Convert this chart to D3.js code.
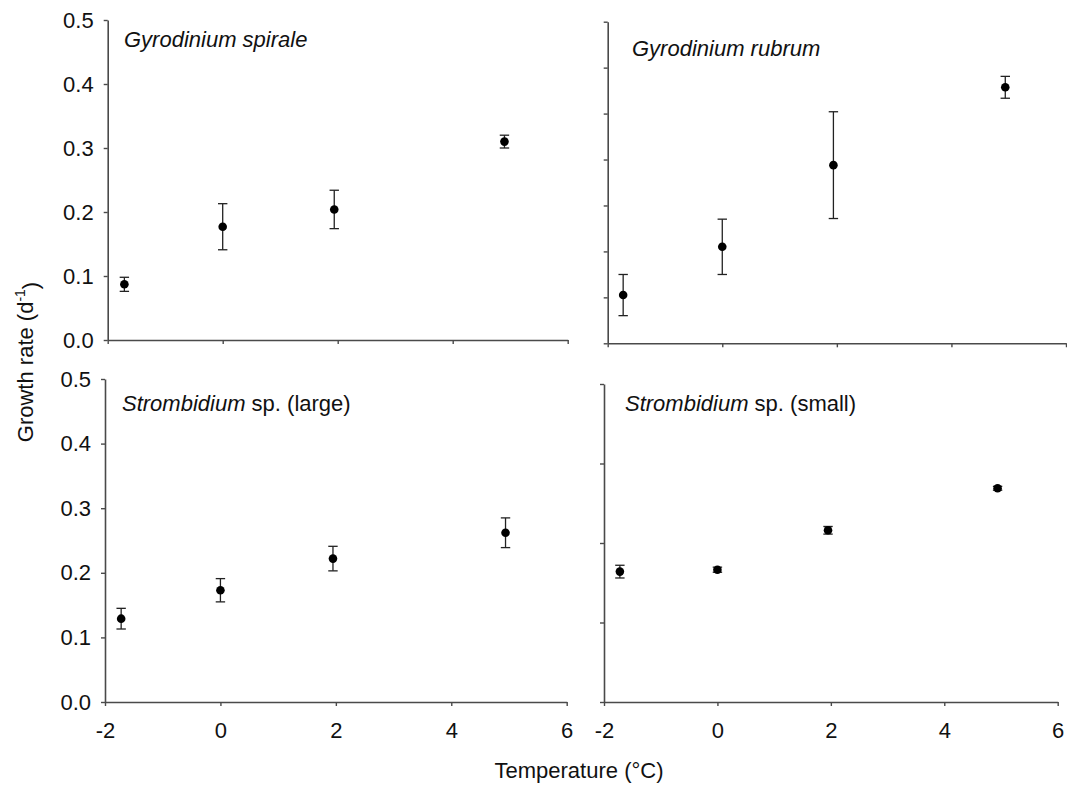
<!DOCTYPE html>
<html>
<head>
<meta charset="utf-8">
<script src="https://cdn.jsdelivr.net/npm/d3@7"></script>
<style>
  html, body { margin: 0; padding: 0; background: #fff; }
  svg { display: block; font-family: "Liberation Sans", Arial, sans-serif; }
</style>
</head>
<body>
<svg id="chart" width="1067" height="788"></svg>
<script>
// ---- data ----
const panelTitles = [
  ["Gyrodinium spirale"],
  ["Gyrodinium rubrum"],
  ["Strombidium", " sp. (large)"],
  ["Strombidium", " sp. (small)"]
];
const tempGS = [-1.71, 0.0, 1.94, 4.90];
const rateGS = [0.087, 0.177, 0.204, 0.310];
const errGS  = [0.011, 0.036, 0.030, 0.010];

const tempGR = [-1.73, 0.0, 1.94, 4.94];
const rateGR = [0.075, 0.150, 0.277, 0.398];
const errGR  = [0.032, 0.043, 0.083, 0.017];

const tempSL = [-1.72, 0.0, 1.95, 4.94];
const rateSL = [0.129, 0.173, 0.222, 0.262];
const errSL  = [0.016, 0.018, 0.019, 0.023];

const tempSS = [-1.72, 0.0, 1.95, 4.94];
const rateSS = [0.205, 0.208, 0.270, 0.336];
const errSS  = [0.010, 0.004, 0.006, 0.003];

const xTicks = [-2, 0, 2, 4, 6];
const xTickLabels = ["-2", "0", "2", "4", "6"];
const yTicksLeft = [0, 0.1, 0.2, 0.3, 0.4, 0.5];
const yTickLabels = ["0.0", "0.1", "0.2", "0.3", "0.4", "0.5"];
const yTicksTopRight = d3.range(0, 8).map(i => i * 0.5 / 7);
const yTicksBottomRight = d3.range(0, 5).map(i => i * 0.5 / 4);
const xLabel = "Temperature (°C)";

// ---- layout ----
const panels = [
  { t: tempGS, r: rateGS, e: errGS, title: panelTitles[0],
    x0: 107.7, x1: 567.7, yTop: 20, yBot: 340, yTicks: yTicksLeft, yLabels: true, xLabels: false, tx: 124, ty: 47 },
  { t: tempGR, r: rateGR, e: errGR, title: panelTitles[1],
    x0: 607.7, x1: 1066, yTop: 21.7, yBot: 343.3, yTicks: yTicksTopRight, yLabels: false, xLabels: false, tx: 632, ty: 56 },
  { t: tempSL, r: rateSL, e: errSL, title: panelTitles[2],
    x0: 105, x1: 566.7, yTop: 379, yBot: 702, yTicks: yTicksLeft, yLabels: true, xLabels: true, tx: 122, ty: 411 },
  { t: tempSS, r: rateSS, e: errSS, title: panelTitles[3],
    x0: 604, x1: 1057.7, yTop: 384, yBot: 702, yTicks: yTicksBottomRight, yLabels: false, xLabels: true, tx: 625, ty: 411 }
];

const svg = d3.select("#chart");
const axisColor = "#4a4a4a";
const fontSize = 22;

panels.forEach(p => {
  const x = d3.scaleLinear().domain([-2, 6]).range([p.x0, p.x1]);
  const y = d3.scaleLinear().domain([0, 0.5]).range([p.yBot, p.yTop]);
  const g = svg.append("g");

  const xa = g.append("g").attr("transform", `translate(0,${p.yBot})`)
    .call(d3.axisBottom(x).tickValues(xTicks).tickSizeOuter(0).tickSizeInner(4).tickPadding(16)
      .tickFormat((d, i) => p.xLabels ? xTickLabels[i] : ""));
  const ya = g.append("g").attr("transform", `translate(${p.x0},0)`)
    .call(d3.axisLeft(y).tickValues(p.yTicks).tickSizeOuter(0).tickSizeInner(4).tickPadding(10)
      .tickFormat((d, i) => p.yLabels ? yTickLabels[i] : ""));

  [xa, ya].forEach(a => {
    a.select(".domain").attr("stroke", axisColor).attr("stroke-width", 1.6);
    a.selectAll(".tick line").attr("stroke", axisColor).attr("stroke-width", 1.4);
    a.selectAll("text").attr("fill", "#111").style("font-size", fontSize + "px")
      .style("font-family", '"Liberation Sans", Arial, sans-serif');
  });
  xa.selectAll("text").attr("dy", "0.71em");

  const tt = g.append("text").attr("x", p.tx).attr("y", p.ty)
    .style("font-size", "22px").attr("fill", "#111");
  tt.append("tspan").style("font-style", "italic").text(p.title[0]);
  if (p.title.length > 1) tt.append("tspan").text(p.title[1]);

  const data = p.t.map((tv, i) => ({ t: tv, r: p.r[i], e: p.e[i] }));
  const cap = 4.7;
  const eb = g.append("g").attr("stroke", "#222").attr("stroke-width", 1.3);
  data.forEach(d => {
    const cx = x(d.t);
    eb.append("line").attr("x1", cx).attr("x2", cx).attr("y1", y(d.r - d.e)).attr("y2", y(d.r + d.e));
    eb.append("line").attr("x1", cx - cap).attr("x2", cx + cap).attr("y1", y(d.r + d.e)).attr("y2", y(d.r + d.e));
    eb.append("line").attr("x1", cx - cap).attr("x2", cx + cap).attr("y1", y(d.r - d.e)).attr("y2", y(d.r - d.e));
  });
  g.append("g").selectAll("circle").data(data).join("circle")
    .attr("cx", d => x(d.t)).attr("cy", d => y(d.r)).attr("r", 4.3).attr("fill", "#000");
});

svg.append("text").attr("x", 579).attr("y", 778).attr("text-anchor", "middle")
  .style("font-size", "22px").attr("fill", "#111").text(xLabel);

const yt = svg.append("text").attr("transform", "translate(33,362) rotate(-90)")
  .attr("text-anchor", "middle").style("font-size", "22px").attr("fill", "#111");
yt.append("tspan").text("Growth rate (d");
yt.append("tspan").attr("dy", "-0.6em").style("font-size", "14px").text("-1");
yt.append("tspan").attr("dy", "0.6em").text(")");
</script>
</body>
</html>
